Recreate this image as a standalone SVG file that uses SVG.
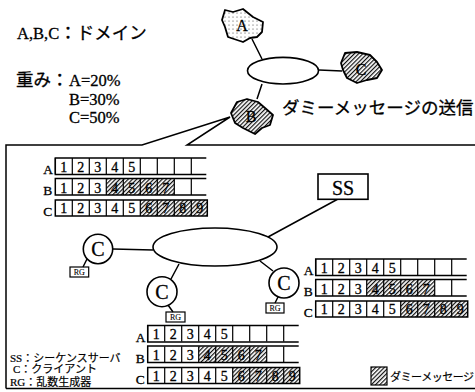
<svg xmlns="http://www.w3.org/2000/svg" width="475" height="392" viewBox="0 0 475 392">
<defs>
<pattern id="hatch" width="3" height="3" patternUnits="userSpaceOnUse" patternTransform="rotate(45)"><rect width="3" height="3" fill="#fff"/><rect width="1.2" height="3" fill="#111"/></pattern>
<pattern id="dots" width="4" height="4" patternUnits="userSpaceOnUse"><rect width="4" height="4" fill="#fff"/><circle cx="1" cy="1" r="0.55" fill="#333"/></pattern>
</defs>
<style>
text{font-family:"Liberation Serif","Noto Sans CJK JP",serif;fill:#000;stroke:#000;stroke-width:.3}
.ln{fill:none;stroke:#000;stroke-width:1.5}
.th{fill:none;stroke:#000;stroke-width:1.2}
.nd{fill:#fff;stroke:#000;stroke-width:1.6}
.bl{stroke:#000;stroke-width:1.8;stroke-linejoin:round}
.dg{font-size:14px}
.lb{font-size:13.500px}
.rg{font-size:8px;text-anchor:middle;stroke-width:.1}
.cc{font-size:20px;text-anchor:middle}
.t1{font-size:16.500px}
.k{font-size:17.500px}
.t2{font-size:11px;stroke-width:.2}
.h{fill:url(#hatch);stroke:none}
</style>
<rect width="475" height="392" fill="#fff"/>
<g id="connectors">
<path class="ln" d="M252 39L262 59M319 70L342 71M262 84L257 99"/>
<path class="ln" d="M113 249L153 250M87 259L83 267M179 264L171 279M168 305L173 312M260 261L273 271M278 297L275 303M338 199L268 237"/>
<path class="ln" d="M6 388.500V145H142L230 117L187 145H475M6 388.500H475"/>
</g>
<g id="domain-net"><ellipse class="nd" cx="283" cy="70.700" rx="35.500" ry="13.300"/></g>
<g id="domain-a"><polygon class="bl" fill="url(#dots)" points="225,10 233,12 243,9 253,17 263,22 262,32 257,37 250,38 243,42 228,37 225,27 222,20"/><text x="242" y="31" font-size="16" text-anchor="middle">A</text></g>
<g id="domain-c"><polygon class="bl" fill="url(#hatch)" points="345,53 357,52 370,55 377,62 382,70 377,78 367,80 357,83 347,78 343,70 341,63"/><text x="361" y="75" font-size="16" text-anchor="middle">C</text></g>
<g id="domain-b"><polygon class="bl" fill="url(#hatch)" points="237,102 247,99 258,102 265,108 273,115 270,125 262,128 255,134 243,128 235,123 231,113"/><text x="251" y="122" font-size="16" text-anchor="middle">B</text></g>
<g id="notes">
<text class="t1" x="17" y="39">A,B,C<tspan class="k">：ドメイン</tspan></text>
<text class="k" x="16" y="86">重み：</text>
<text class="t1" x="69" y="86">A=20%</text>
<text class="t1" x="69" y="105">B=30%</text>
<text class="t1" x="69" y="123">C=50%</text>
<text x="282" y="114" font-size="17.500px">ダミーメッセージの送信</text>
</g>
<g id="ss"><rect class="nd" x="318" y="174" width="50" height="25.300"/><text x="343" y="195" font-size="20" text-anchor="middle">SS</text></g>
<g id="net"><ellipse class="nd" cx="215" cy="247" rx="62" ry="19"/></g>
<g id="client-1"><circle class="nd" cx="98" cy="249" r="14.700"/><text class="cc" x="98" y="255.500">C</text><rect class="th" x="70" y="267" width="18.700" height="10"/><text class="rg" x="79.300" y="275">RG</text></g>
<g id="client-2"><circle class="nd" cx="162" cy="291.700" r="15"/><text class="cc" x="162" y="298.500">C</text><rect class="th" x="166" y="312" width="19" height="10"/><text class="rg" x="175.500" y="320">RG</text></g>
<g id="client-3"><circle class="nd" cx="284" cy="283" r="15"/><text class="cc" x="284" y="289.500">C</text><rect class="th" x="266" y="303" width="18" height="10"/><text class="rg" x="275" y="311">RG</text></g>
<g id="queue-1" transform="translate(55.300 158)">
<rect class="h" x="51" y="21" width="68" height="16"/><rect class="h" x="85" y="42" width="67" height="16"/>
<path class="ln" d="M151 0H0V16.500H151M151 20.500H0V37H151M0 42H152V58H0Z"/>
<path class="th" d="M0 0V16M17 0V16M34 0V16M51 0V16M68 0V16M85 0V16M102 0V16M119 0V16M136 0V16M17 21V37M34 21V37M51 21V37M68 21V37M85 21V37M102 21V37M119 21V37M136 21V37M17 42V58M34 42V58M51 42V58M68 42V58M85 42V58M102 42V58M119 42V58M136 42V58"/>
<text class="lb" x="-12" y="16">A</text><text class="lb" x="-12" y="37">B</text><text class="lb" x="-12" y="58">C</text>
<text class="dg" x="5 22 39 56 73" y="13.500">12345</text><text class="dg" x="5 22 39 56 73 90 107" y="34.500">1234567</text><text class="dg" x="5 22 39 56 73 90 107 124 141" y="55">123456789</text>
</g>
<g id="queue-2" transform="translate(315.700 259)">
<rect class="h" x="51" y="21" width="68" height="16"/><rect class="h" x="85" y="42" width="67" height="16"/>
<path class="ln" d="M151 0H0V16.500H151M151 20.500H0V37H151M0 42H152V58H0Z"/>
<path class="th" d="M0 0V16M17 0V16M34 0V16M51 0V16M68 0V16M85 0V16M102 0V16M119 0V16M136 0V16M17 21V37M34 21V37M51 21V37M68 21V37M85 21V37M102 21V37M119 21V37M136 21V37M17 42V58M34 42V58M51 42V58M68 42V58M85 42V58M102 42V58M119 42V58M136 42V58"/>
<text class="lb" x="-12" y="16">A</text><text class="lb" x="-12" y="37">B</text><text class="lb" x="-12" y="58">C</text>
<text class="dg" x="5 22 39 56 73" y="13.500">12345</text><text class="dg" x="5 22 39 56 73 90 107" y="34.500">1234567</text><text class="dg" x="5 22 39 56 73 90 107 124 141" y="55">123456789</text>
</g>
<g id="queue-3" transform="translate(147.700 325.500)">
<rect class="h" x="51" y="21" width="68" height="16"/><rect class="h" x="85" y="42" width="67" height="16"/>
<path class="ln" d="M151 0H0V16.500H151M151 20.500H0V37H151M0 42H152V58H0Z"/>
<path class="th" d="M0 0V16M17 0V16M34 0V16M51 0V16M68 0V16M85 0V16M102 0V16M119 0V16M136 0V16M17 21V37M34 21V37M51 21V37M68 21V37M85 21V37M102 21V37M119 21V37M136 21V37M17 42V58M34 42V58M51 42V58M68 42V58M85 42V58M102 42V58M119 42V58M136 42V58"/>
<text class="lb" x="-12" y="16">A</text><text class="lb" x="-12" y="37">B</text><text class="lb" x="-12" y="58">C</text>
<text class="dg" x="5 22 39 56 73" y="13.500">12345</text><text class="dg" x="5 22 39 56 73 90 107" y="34.500">1234567</text><text class="dg" x="5 22 39 56 73 90 107 124 141" y="55">123456789</text>
</g>
<g id="legend">
<text class="t2" x="10" y="362">SS：シーケンスサーバ</text>
<text class="t2" x="13" y="372.500">C：クライアント</text>
<text class="t2" x="10" y="385.500">RG：乱数生成器</text>
<rect x="371" y="367" width="16" height="18" fill="url(#hatch)" stroke="#000" stroke-width="1.200"/>
<text class="t2" x="390" y="381" textLength="84">ダミーメッセージ</text>
</g>
</svg>
